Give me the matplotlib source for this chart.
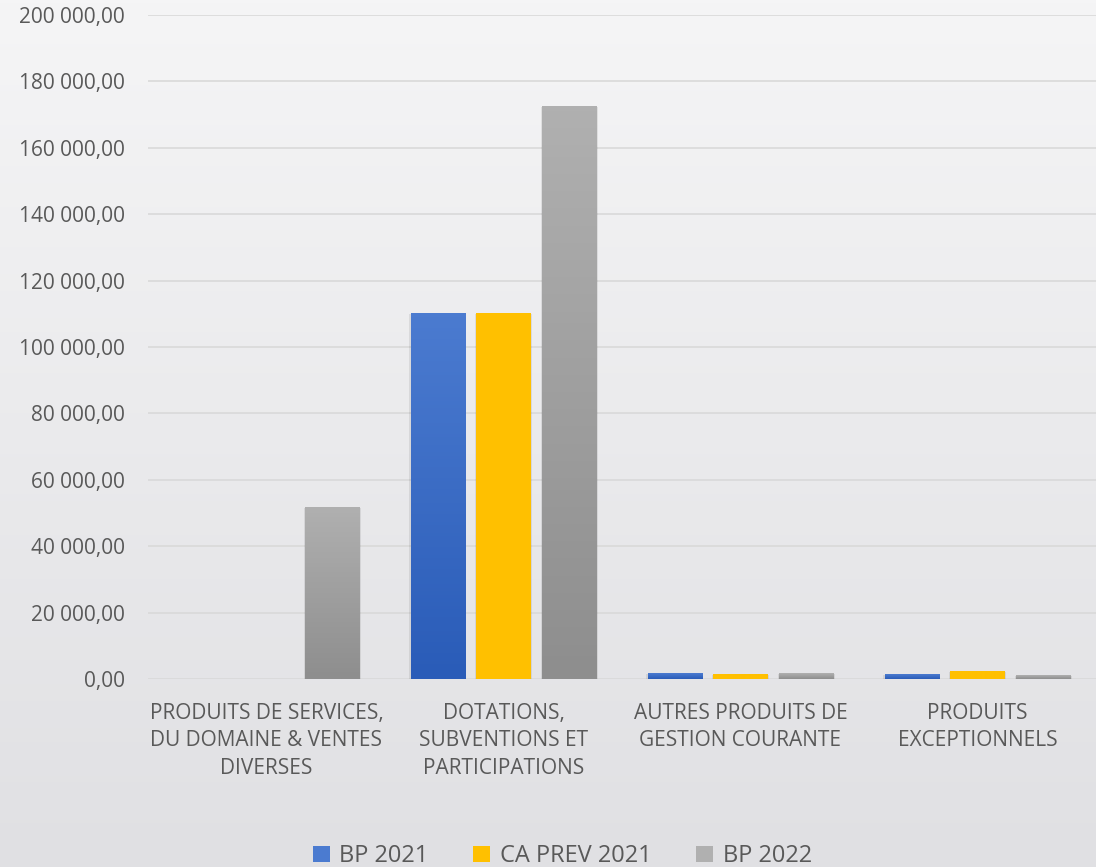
import matplotlib.pyplot as plt
import numpy as np
from matplotlib.ticker import FuncFormatter
from matplotlib.colors import LinearSegmentedColormap

# données
categories = [
    "PRODUITS DE SERVICES,\nDU DOMAINE & VENTES\nDIVERSES",
    "DOTATIONS,\nSUBVENTIONS ET\nPARTICIPATIONS",
    "AUTRES PRODUITS DE\nGESTION COURANTE",
    "PRODUITS\nEXCEPTIONNELS",
]
series = ["BP 2021", "CA PREV 2021", "BP 2022"]
bp_2021 = [0, 110200, 1800, 1500]
ca_prev_2021 = [0, 110200, 1500, 2400]
bp_2022 = [51800, 172600, 1800, 1200]

valeurs = [bp_2021, ca_prev_2021, bp_2022]
degrades = [("#4b7bd0", "#2a5cb8"), ("#ffc000", "#ffc000"), ("#b0b0b0", "#8e8e8e")]

plt.rcParams["font.family"] = ["Open Sans", "DejaVu Sans"]

fig = plt.figure(figsize=(10.96, 8.67), dpi=100)

# fond dégradé
bg = fig.add_axes([0, 0, 1, 1], zorder=-10)
grad = np.linspace(0, 1, 256).reshape(-1, 1)
bg_cmap = LinearSegmentedColormap.from_list("bg", ["#f5f5f6", "#e0e0e3"])
bg.imshow(grad, aspect="auto", cmap=bg_cmap, extent=[0, 1, 0, 1], origin="upper")
bg.axis("off")

ax = fig.add_axes([0.135, 0.2168, 0.865, 0.766])
ax.patch.set_alpha(0)

x = np.arange(len(categories))
largeur = 0.228
pas = 0.278

for i, (nom, vals) in enumerate(zip(series, valeurs)):
    haut, bas = degrades[i]
    cmap = LinearSegmentedColormap.from_list(nom, [bas, haut])
    bars = ax.bar(x + (i - 1) * pas, vals, largeur, color=haut, label=nom, zorder=3)
    for b in bars:
        if b.get_height() <= 0:
            continue
        x0, y0 = b.get_x(), b.get_y()
        w, h = b.get_width(), b.get_height()
        # ombre légère
        ax.bar(x0 + w / 2, h, w * 1.06, bottom=y0 - 400, color="#000000", alpha=0.08, zorder=2)
        im = ax.imshow(np.linspace(0, 1, 100).reshape(-1, 1), cmap=cmap, aspect="auto",
                       extent=[x0, x0 + w, y0, y0 + h], origin="lower", zorder=4)
        im.set_clip_path(b)

ax.set_xlim(-0.5, 3.5)
ax.set_ylim(0, 200000)
ax.set_yticks(np.arange(0, 200001, 20000))
ax.yaxis.set_major_formatter(FuncFormatter(lambda v, p: f"{v:,.2f}".replace(",", " ").replace(".", ",")))
ax.set_xticks(x)
ax.set_xticklabels(categories, fontsize=15, color="#595959", linespacing=1.42)
ax.tick_params(axis="y", labelsize=15, labelcolor="#595959", length=0, pad=16.5)
ax.tick_params(axis="x", length=0, pad=17)
ax.grid(axis="y", color="#d9d9d9", linewidth=1.2, zorder=0)
for s in ax.spines.values():
    s.set_visible(False)

fig.legend(loc="lower center", bbox_to_anchor=(0.513, -0.026), ncol=3, frameon=False,
           fontsize=17, labelcolor="#595959", handlelength=0.72, handleheight=0.72,
           handletextpad=0.4, columnspacing=1.9)

fig.savefig("out.png", dpi=100)
